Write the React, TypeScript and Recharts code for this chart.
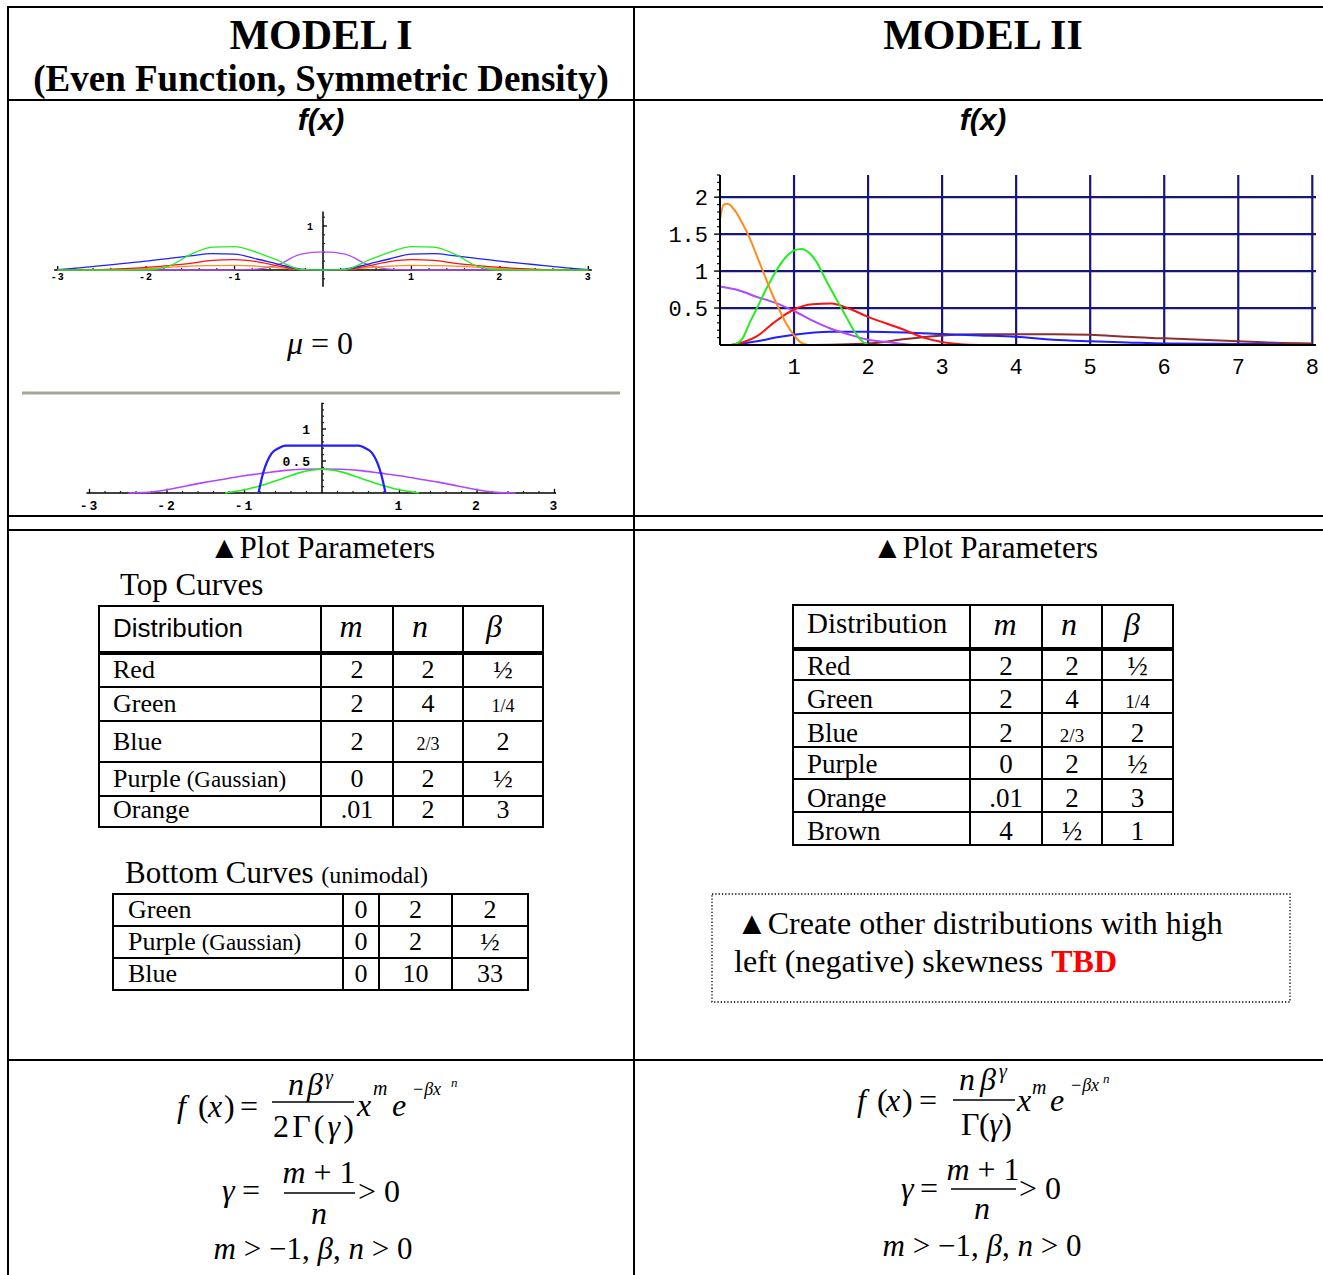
import React from 'react';
import { LineChart, Line, XAxis, YAxis, ReferenceLine, ReferenceDot } from 'recharts';

const SERIF = "'Liberation Serif', 'Times New Roman', serif";
const SANS = "'Liberation Sans', Arial, sans-serif";
const MONO = "'Liberation Mono', 'DejaVu Sans Mono', monospace";

const RED = '#ff1010';
const GREEN = '#22ee22';
const BLUE = '#1f1fff';
const ORANGE = '#ff8c1a';
const PURPLE = '#b048ff';
const BROWN = '#8b2f2f';
const NAVY = '#16167c';

// ---------- Model I, top curves ----------
const topX = [-3, -2.75, -2.5, -2.25, -2, -1.75, -1.5, -1.25, -1, -0.75, -0.5, -0.25, 0, 0.25, 0.5, 0.75, 1, 1.25, 1.5, 1.75, 2, 2.25, 2.5, 2.75, 3];
const topBlue = [0.01, 0.05, 0.1, 0.15, 0.2, 0.26, 0.32, 0.37, 0.36, 0.25, 0.13, 0.02, 0, 0.02, 0.13, 0.25, 0.36, 0.37, 0.32, 0.26, 0.2, 0.15, 0.1, 0.05, 0.01];
const topGreen = [0, 0, 0, 0, 0, 0.08, 0.35, 0.52, 0.53, 0.4, 0.21, 0.01, 0, 0.01, 0.21, 0.4, 0.53, 0.52, 0.35, 0.08, 0, 0, 0, 0, 0];
const topRed = [0, 0, 0.01, 0.03, 0.06, 0.1, 0.15, 0.22, 0.235, 0.19, 0.09, 0.01, 0, 0.01, 0.09, 0.19, 0.235, 0.22, 0.15, 0.1, 0.06, 0.03, 0.01, 0, 0];
const topOrange = [0, 0, 0, 0.01, 0.03, 0.06, 0.09, 0.1, 0.105, 0.09, 0.05, 0.01, 0, 0.01, 0.05, 0.09, 0.105, 0.1, 0.09, 0.06, 0.03, 0.01, 0, 0, 0];
const topPurple = [0, 0, 0, 0, 0, 0, 0, 0, 0.005, 0.02, 0.13, 0.36, 0.41, 0.36, 0.13, 0.02, 0.005, 0, 0, 0, 0, 0, 0, 0, 0];
const topXTicks = [-3, -2, -1, 1, 2, 3];
const topXTickLabels = ['-3', '-2', '-1', '1', '2', '3'];
const topYTicks = [1];
const topYTickLabels = ['1'];

// ---------- Model I, bottom curves ----------
const botPurpleX = [-2.5, -2.25, -2, -1.75, -1.5, -1.25, -1, -0.75, -0.5, -0.25, 0, 0.25, 0.5, 0.75, 1, 1.25, 1.5, 1.75, 2, 2.25, 2.5];
const botPurple = [0, 0.01, 0.05, 0.11, 0.17, 0.22, 0.27, 0.31, 0.35, 0.37, 0.375, 0.37, 0.35, 0.31, 0.27, 0.22, 0.17, 0.11, 0.05, 0.01, 0];
const botGreenX = [-1.25, -1, -0.75, -0.5, -0.25, 0, 0.25, 0.5, 0.75, 1, 1.25];
const botGreen = [0, 0.05, 0.13, 0.23, 0.33, 0.37, 0.33, 0.23, 0.13, 0.05, 0];
const botBlueX = [-0.82, -0.76, -0.65, -0.56, -0.47, 0, 0.47, 0.56, 0.65, 0.76, 0.82];
const botBlue = [0, 0.31, 0.62, 0.7, 0.74, 0.74, 0.74, 0.7, 0.62, 0.31, 0];
const botXTicks = [-3, -2, -1, 1, 2, 3];
const botXTickLabels = ['-3', '-2', '-1', '1', '2', '3'];
const botYTicks = [0.5, 1];
const botYTickLabels = ['0.5', '1'];

// ---------- Model II curves ----------
const m2OrangeX = [0, 0.05, 0.1, 0.2, 0.3, 0.4, 0.5, 0.6, 0.7, 0.8, 0.9, 1.0, 1.1, 1.2];
const m2Orange = [1.7, 1.9, 1.91, 1.82, 1.65, 1.45, 1.2, 0.95, 0.7, 0.48, 0.28, 0.13, 0.03, 0];
const m2GreenX = [0.15, 0.2, 0.3, 0.4, 0.5, 0.6, 0.7, 0.8, 0.9, 1.0, 1.1, 1.2, 1.3, 1.4, 1.5, 1.6, 1.7, 1.8, 1.9, 2.0];
const m2Green = [0, 0.01, 0.08, 0.3, 0.5, 0.71, 0.9, 1.07, 1.2, 1.28, 1.3, 1.25, 1.13, 0.94, 0.75, 0.57, 0.39, 0.21, 0.07, 0];
const m2PurpleX = [0, 0.25, 0.5, 0.75, 1, 1.25, 1.5, 1.75, 2, 2.25, 2.5, 2.6];
const m2Purple = [0.79, 0.74, 0.65, 0.57, 0.46, 0.33, 0.22, 0.14, 0.07, 0.04, 0.01, 0];
const m2RedX = [0.15, 0.25, 0.5, 0.75, 1, 1.25, 1.5, 1.75, 2, 2.25, 2.5, 2.75, 3, 3.25, 3.5];
const m2Red = [0, 0.02, 0.12, 0.32, 0.48, 0.55, 0.56, 0.49, 0.38, 0.29, 0.2, 0.1, 0.04, 0.01, 0];
const m2BlueX = [0.15, 0.5, 0.75, 1, 1.5, 2, 2.5, 3, 3.5, 4, 4.5, 5, 5.5, 6, 7, 7.6];
const m2Blue = [0, 0.05, 0.1, 0.14, 0.18, 0.18, 0.17, 0.15, 0.13, 0.11, 0.07, 0.05, 0.035, 0.02, 0.014, 0.01];
const m2BrownX = [1.25, 1.5, 2, 2.5, 3, 3.5, 4, 4.5, 5, 5.5, 6, 6.5, 7, 7.5, 8];
const m2Brown = [0, 0.005, 0.02, 0.08, 0.13, 0.145, 0.145, 0.145, 0.14, 0.11, 0.09, 0.07, 0.05, 0.03, 0.02];
const m2XTicks = [1, 2, 3, 4, 5, 6, 7, 8];
const m2XTickLabels = ['1', '2', '3', '4', '5', '6', '7', '8'];
const m2YTicks = [0.5, 1, 1.5, 2];
const m2YTickLabels = ['0.5', '1', '1.5', '2'];

// ---------- parameter tables ----------
const topTableRows = ['Red', 'Green', 'Blue', 'Purple', 'Orange'];
const topTableM = ['2', '2', '2', '0', '.01'];
const topTableN = ['2', '4', '2/3', '2', '2'];
const topTableB = ['½', '1/4', '2', '½', '3'];
const botTableRows = ['Green', 'Purple', 'Blue'];
const botTableM = ['0', '0', '0'];
const botTableN = ['2', '2', '10'];
const botTableB = ['2', '½', '33'];
const m2TableRows = ['Red', 'Green', 'Blue', 'Purple', 'Orange', 'Brown'];
const m2TableM = ['2', '2', '2', '0', '.01', '4'];
const m2TableN = ['2', '4', '2/3', '2', '2', '½'];
const m2TableB = ['½', '1/4', '2', '½', '3', '1'];

const pts = (xs: number[], ys: number[]) => xs.map((x, i) => ({ x, y: ys[i] }));
const steps = (a: number, b: number, s: number) => {
  const out: number[] = [];
  for (let v = a; v <= b + 1e-9; v += s) out.push(Math.round(v * 100) / 100);
  return out;
};
const isWhole = (v: number, unit: number) => Math.abs(v / unit - Math.round(v / unit)) < 1e-6;

type AxisSpec = {
  id: string;
  xFrom: number; xTo: number; yFrom: number; yTo: number;
  xMajor: number[]; xLabels: string[]; xMinor: number[];
  yMajor: number[]; yLabels: string[]; yMinor: number[];
  xTickMaj: number; xTickMin: number; yTickMaj: number; yTickMin: number;
  fontSize: number; letterSpacing: number; xLabelOffset: number; yLabelOffset: number;
};

function mathAxes(s: AxisSpec) {
  const els: React.ReactNode[] = [];
  els.push(<ReferenceLine key={s.id + 'xa'} segment={[{ x: s.xFrom, y: 0 }, { x: s.xTo, y: 0 }]} stroke="#000" strokeWidth={1.5} ifOverflow="visible" />);
  els.push(<ReferenceLine key={s.id + 'ya'} segment={[{ x: 0, y: s.yFrom }, { x: 0, y: s.yTo }]} stroke="#000" strokeWidth={1.5} ifOverflow="visible" />);
  s.xMinor.forEach((v) => {
    els.push(<ReferenceLine key={s.id + 'xm' + v} segment={[{ x: v, y: 0 }, { x: v, y: s.xTickMin }]} stroke="#222" strokeWidth={1.2} ifOverflow="visible" />);
  });
  s.yMinor.forEach((v) => {
    els.push(<ReferenceLine key={s.id + 'ym' + v} segment={[{ x: 0, y: v }, { x: s.yTickMin, y: v }]} stroke="#222" strokeWidth={1.2} ifOverflow="visible" />);
  });
  s.xMajor.forEach((v, i) => {
    els.push(<ReferenceLine key={s.id + 'xM' + v} segment={[{ x: v, y: 0 }, { x: v, y: s.xTickMaj }]} stroke="#000" strokeWidth={1.3} ifOverflow="visible" />);
    els.push(
      <ReferenceDot key={s.id + 'xl' + v} x={v} y={0} r={0} fill="none" stroke="none" ifOverflow="visible"
        label={{ value: s.xLabels[i], position: 'bottom', offset: s.xLabelOffset, fontSize: s.fontSize, fontFamily: MONO, fontWeight: 'bold', fill: '#000', letterSpacing: s.letterSpacing }} />
    );
  });
  s.yMajor.forEach((v, i) => {
    els.push(<ReferenceLine key={s.id + 'yM' + v} segment={[{ x: 0, y: v }, { x: s.yTickMaj, y: v }]} stroke="#000" strokeWidth={1.3} ifOverflow="visible" />);
    els.push(
      <ReferenceDot key={s.id + 'yl' + v} x={0} y={v} r={0} fill="none" stroke="none" ifOverflow="visible"
        label={{ value: s.yLabels[i], position: 'left', offset: s.yLabelOffset, fontSize: s.fontSize, fontFamily: MONO, fontWeight: 'bold', fill: '#000', letterSpacing: s.letterSpacing }} />
    );
  });
  return els;
}

function TopChart() {
  return (
    <LineChart width={566} height={99} margin={{ top: 0, right: 0, bottom: 0, left: 0 }}>
      <XAxis type="number" dataKey="x" domain={[-3.2, 3.2]} hide allowDataOverflow />
      <YAxis type="number" domain={[-0.75, 1.5]} hide allowDataOverflow />
      {mathAxes({
        id: 't', xFrom: -3.04, xTo: 3.04, yFrom: -0.38, yTo: 1.33,
        xMajor: topXTicks, xLabels: topXTickLabels,
        xMinor: steps(-2.8, 2.8, 0.2).filter((v) => !isWhole(v, 1)),
        yMajor: topYTicks, yLabels: topYTickLabels,
        yMinor: steps(-0.2, 1.2, 0.2).filter((v) => !isWhole(v, 1)),
        xTickMaj: 0.09, xTickMin: 0.045, yTickMaj: 0.045, yTickMin: 0.023,
        fontSize: 10, letterSpacing: 1, xLabelOffset: 3, yLabelOffset: 9,
      })}
      <Line data={pts(topX, topPurple)} dataKey="y" type="monotone" stroke={PURPLE} strokeWidth={1.3} dot={false} isAnimationActive={false} />
      <Line data={pts(topX, topOrange)} dataKey="y" type="monotone" stroke={ORANGE} strokeWidth={1.3} dot={false} isAnimationActive={false} />
      <Line data={pts(topX, topRed)} dataKey="y" type="monotone" stroke={RED} strokeWidth={1.3} dot={false} isAnimationActive={false} />
      <Line data={pts(topX, topBlue)} dataKey="y" type="monotone" stroke={BLUE} strokeWidth={1.3} dot={false} isAnimationActive={false} />
      <Line data={pts(topX, topGreen)} dataKey="y" type="monotone" stroke={GREEN} strokeWidth={1.3} dot={false} isAnimationActive={false} />
    </LineChart>
  );
}

function BottomChart() {
  return (
    <LineChart width={496} height={128} margin={{ top: 0, right: 0, bottom: 0, left: 0 }}>
      <XAxis type="number" dataKey="x" domain={[-3.2, 3.2]} hide allowDataOverflow />
      <YAxis type="number" domain={[-0.5, 1.5]} hide allowDataOverflow />
      {mathAxes({
        id: 'b', xFrom: -3.04, xTo: 3.02, yFrom: 0, yTo: 1.41,
        xMajor: botXTicks, xLabels: botXTickLabels,
        xMinor: steps(-2.8, 2.8, 0.2).filter((v) => !isWhole(v, 1)),
        yMajor: botYTicks, yLabels: botYTickLabels,
        yMinor: steps(0.1, 1.4, 0.1).filter((v) => !isWhole(v, 0.5)),
        xTickMaj: 0.065, xTickMin: 0.032, yTickMaj: 0.052, yTickMin: 0.026,
        fontSize: 13, letterSpacing: 2, xLabelOffset: 8, yLabelOffset: 10,
      })}
      <Line data={pts(botPurpleX, botPurple)} dataKey="y" type="monotone" stroke={PURPLE} strokeWidth={1.6} dot={false} isAnimationActive={false} />
      <Line data={pts(botGreenX, botGreen)} dataKey="y" type="monotone" stroke={GREEN} strokeWidth={1.6} dot={false} isAnimationActive={false} />
      <Line data={pts(botBlueX, botBlue)} dataKey="y" type="monotone" stroke={BLUE} strokeWidth={2.2} dot={false} isAnimationActive={false} />
    </LineChart>
  );
}

function ModelIIChart() {
  const minorY = steps(0.1, 2.3, 0.1).filter((v) => !isWhole(v, 0.5));
  return (
    <LineChart width={662} height={215} margin={{ top: 5, right: 6, bottom: 0, left: 0 }}>
      <XAxis type="number" dataKey="x" domain={[0, 8.05]} ticks={m2XTicks} allowDataOverflow
        tickFormatter={(v: number, i: number) => m2XTickLabels[i]}
        height={40} tickLine={false} tickMargin={7} axisLine={{ stroke: '#000', strokeWidth: 2 }}
        tick={{ fontSize: 22, fontFamily: MONO, fill: '#000' }} />
      <YAxis type="number" domain={[0, 2.3]} ticks={m2YTicks} allowDataOverflow
        tickFormatter={(v: number, i: number) => m2YTickLabels[i]}
        width={60} tickLine={false} tickMargin={6} axisLine={{ stroke: '#000', strokeWidth: 2 }}
        tick={{ fontSize: 22, fontFamily: MONO, fill: '#000' }} />
      {m2XTicks.map((v) => (
        <ReferenceLine key={'gx' + v} x={v} stroke={NAVY} strokeWidth={2.2} />
      ))}
      {m2YTicks.map((v) => (
        <ReferenceLine key={'gy' + v} y={v} stroke={NAVY} strokeWidth={2.2} />
      ))}
      {minorY.map((v) => (
        <ReferenceLine key={'my' + v} segment={[{ x: 0, y: v }, { x: -0.04, y: v }]} stroke="#000" strokeWidth={1.2} ifOverflow="visible" />
      ))}
      {m2YTicks.map((v) => (
        <ReferenceLine key={'My' + v} segment={[{ x: 0, y: v }, { x: -0.08, y: v }]} stroke="#000" strokeWidth={1.4} ifOverflow="visible" />
      ))}
      <Line data={pts(m2BrownX, m2Brown)} dataKey="y" type="monotone" stroke={BROWN} strokeWidth={2} dot={false} isAnimationActive={false} />
      <Line data={pts(m2BlueX, m2Blue)} dataKey="y" type="monotone" stroke={BLUE} strokeWidth={2} dot={false} isAnimationActive={false} />
      <Line data={pts(m2PurpleX, m2Purple)} dataKey="y" type="monotone" stroke={PURPLE} strokeWidth={2} dot={false} isAnimationActive={false} />
      <Line data={pts(m2RedX, m2Red)} dataKey="y" type="monotone" stroke={RED} strokeWidth={2} dot={false} isAnimationActive={false} />
      <Line data={pts(m2GreenX, m2Green)} dataKey="y" type="monotone" stroke={GREEN} strokeWidth={2} dot={false} isAnimationActive={false} />
      <Line data={pts(m2OrangeX, m2Orange)} dataKey="y" type="monotone" stroke={ORANGE} strokeWidth={2} dot={false} isAnimationActive={false} />
    </LineChart>
  );
}

const HL = (x1: number, x2: number, y: number, w = 2, key?: string) => (
  <line key={key} x1={x1} x2={x2} y1={y} y2={y} stroke="#000" strokeWidth={w} />
);
const VL = (x: number, y1: number, y2: number, w = 2, key?: string) => (
  <line key={key} x1={x} x2={x} y1={y1} y2={y2} stroke="#000" strokeWidth={w} />
);

function Frac({ v, x, y, size }: { v: string; x: number; y: number; size: number }) {
  const small = v === '1/4' || v === '2/3';
  return (
    <text x={x} y={y} textAnchor="middle" fontFamily={SERIF} fontSize={small ? Math.round(size * 0.7) : size}>{v}</text>
  );
}

export default function App() {
  const t1Cols = [99, 321, 393, 463, 543];
  const t1Rows = [606, 653, 687, 721, 762, 796, 827];
  const t1Base = [678, 712, 750, 787, 818];
  const t2Cols = [113, 343, 379, 452, 528];
  const t2Rows = [894, 926, 958, 990];
  const t2Base = [918, 950, 982];
  const t3Cols = [793, 970, 1042, 1102, 1173];
  const t3Rows = [605, 649, 680, 713, 747, 779, 812, 845];
  const t3Base = [675, 708, 742, 773, 807, 840];

  const mid = (a: number[], i: number) => (a[i] + a[i + 1]) / 2;

  return (
    <div style={{ position: 'absolute', left: 0, top: 0, width: 1323, height: 1275, background: '#fff', overflow: 'hidden' }}>
      <svg width={1323} height={1275} style={{ position: 'absolute', left: 0, top: 0 }}>
        {HL(7, 1323, 7)}
        {HL(7, 1323, 100)}
        {HL(7, 1323, 516)}
        {HL(7, 1323, 530)}
        {HL(7, 1323, 1060)}
        {VL(8, 6, 1275)}
        {VL(634, 6, 1275)}

        <text x={321} y={49} textAnchor="middle" fontFamily={SERIF} fontWeight="bold" fontSize={42}>MODEL I</text>
        <text x={321} y={91} textAnchor="middle" fontFamily={SERIF} fontWeight="bold" fontSize={37}>(Even Function, Symmetric Density)</text>
        <text x={983} y={49} textAnchor="middle" fontFamily={SERIF} fontWeight="bold" fontSize={42}>MODEL II</text>
        <text x={321} y={130} textAnchor="middle" fontFamily={SANS} fontWeight="bold" fontStyle="italic" fontSize={30}>f(x)</text>
        <text x={983} y={130} textAnchor="middle" fontFamily={SANS} fontWeight="bold" fontStyle="italic" fontSize={30}>f(x)</text>

        <text x={320} y={354} textAnchor="middle" fontFamily={SERIF} fontSize={32}>
          <tspan fontStyle="italic">μ</tspan> = 0
        </text>
        <line x1={22} x2={620} y1={393} y2={393} stroke="#a8a596" strokeWidth={3} />

        <text x={322} y={558} textAnchor="middle" fontFamily={SERIF} fontSize={31}>▲Plot Parameters</text>
        <text x={985} y={558} textAnchor="middle" fontFamily={SERIF} fontSize={31}>▲Plot Parameters</text>
        <text x={120} y={595} fontFamily={SERIF} fontSize={31}>Top Curves</text>
        <text x={125} y={883} fontFamily={SERIF} fontSize={31}>Bottom Curves <tspan fontSize={24}>(unimodal)</tspan></text>

        {t1Rows.map((y, i) => HL(t1Cols[0] - 1, t1Cols[4] + 1, y, i === 1 ? 4 : 2, 't1h' + i))}
        {t1Cols.map((x, i) => VL(x, t1Rows[0], t1Rows[6], 2, 't1v' + i))}
        <text x={113} y={637} fontFamily={SANS} fontSize={26}>Distribution</text>
        <text x={351} y={637} textAnchor="middle" fontFamily={SERIF} fontStyle="italic" fontSize={32}>m</text>
        <text x={420} y={637} textAnchor="middle" fontFamily={SERIF} fontStyle="italic" fontSize={32}>n</text>
        <text x={494} y={637} textAnchor="middle" fontFamily={SERIF} fontStyle="italic" fontSize={32}>β</text>
        {topTableRows.map((r, i) => (
          <g key={'t1r' + i}>
            <text x={113} y={t1Base[i]} fontFamily={SERIF} fontSize={26}>
              {r}{r === 'Purple' ? <tspan fontSize={23}> (Gaussian)</tspan> : null}
            </text>
            <Frac v={topTableM[i]} x={mid(t1Cols, 1)} y={t1Base[i]} size={26} />
            <Frac v={topTableN[i]} x={mid(t1Cols, 2)} y={t1Base[i]} size={26} />
            <Frac v={topTableB[i]} x={mid(t1Cols, 3)} y={t1Base[i]} size={26} />
          </g>
        ))}

        {t2Rows.map((y, i) => HL(t2Cols[0] - 1, t2Cols[4] + 1, y, 2, 't2h' + i))}
        {t2Cols.map((x, i) => VL(x, t2Rows[0], t2Rows[3], 2, 't2v' + i))}
        {botTableRows.map((r, i) => (
          <g key={'t2r' + i}>
            <text x={128} y={t2Base[i]} fontFamily={SERIF} fontSize={26}>
              {r}{r === 'Purple' ? <tspan fontSize={23}> (Gaussian)</tspan> : null}
            </text>
            <Frac v={botTableM[i]} x={mid(t2Cols, 1)} y={t2Base[i]} size={26} />
            <Frac v={botTableN[i]} x={mid(t2Cols, 2)} y={t2Base[i]} size={26} />
            <Frac v={botTableB[i]} x={mid(t2Cols, 3)} y={t2Base[i]} size={26} />
          </g>
        ))}

        {t3Rows.map((y, i) => HL(t3Cols[0] - 1, t3Cols[4] + 1, y, i === 1 ? 4 : 2, 't3h' + i))}
        {t3Cols.map((x, i) => VL(x, t3Rows[0], t3Rows[7], 2, 't3v' + i))}
        <text x={807} y={633} fontFamily={SERIF} fontSize={29}>Distribution</text>
        <text x={1005} y={635} textAnchor="middle" fontFamily={SERIF} fontStyle="italic" fontSize={32}>m</text>
        <text x={1069} y={635} textAnchor="middle" fontFamily={SERIF} fontStyle="italic" fontSize={32}>n</text>
        <text x={1132} y={635} textAnchor="middle" fontFamily={SERIF} fontStyle="italic" fontSize={32}>β</text>
        {m2TableRows.map((r, i) => (
          <g key={'t3r' + i}>
            <text x={807} y={t3Base[i]} fontFamily={SERIF} fontSize={27}>{r}</text>
            <Frac v={m2TableM[i]} x={mid(t3Cols, 1)} y={t3Base[i]} size={27} />
            <Frac v={m2TableN[i]} x={mid(t3Cols, 2)} y={t3Base[i]} size={27} />
            <Frac v={m2TableB[i]} x={mid(t3Cols, 3)} y={t3Base[i]} size={27} />
          </g>
        ))}

        <rect x={712} y={894} width={578} height={108} fill="none" stroke="#000" strokeWidth={1.3} strokeDasharray="1.3 2" />
        <text x={736} y={934} fontFamily={SERIF} fontSize={32}>▲Create other distributions with high</text>
        <text x={734} y={972} fontFamily={SERIF} fontSize={32}>
          left (negative) skewness <tspan fontWeight="bold" fill="#ff0000">TBD</tspan>
        </text>

        <g fontFamily={SERIF} fontSize={32}>
          <text x={177} y={1117} fontStyle="italic">f</text>
          <text x={198} y={1117}>(</text>
          <text x={208} y={1117} fontStyle="italic">x</text>
          <text x={224} y={1117}>)</text>
          <text x={240} y={1117}>=</text>
          <text x={288} y={1095} fontStyle="italic" textLength={35} lengthAdjust="spacing">nβ</text>
          <text x={325} y={1084} fontStyle="italic" fontSize={20}>γ</text>
          <line x1={272} x2={354} y1={1102} y2={1102} stroke="#000" strokeWidth={1.6} />
          <text x={273} y={1137} textLength={81} lengthAdjust="spacing">2Γ(<tspan fontStyle="italic">γ</tspan>)</text>
          <text x={357} y={1116} fontStyle="italic">x</text>
          <text x={373} y={1095} fontStyle="italic" fontSize={20}>m</text>
          <text x={392} y={1116} fontStyle="italic">e</text>
          <text x={412} y={1095} fontStyle="italic" fontSize={18}>−βx</text>
          <text x={451} y={1087} fontStyle="italic" fontSize={13}>n</text>
          <text x={222} y={1201} fontStyle="italic">γ</text>
          <text x={242} y={1201}>=</text>
          <text x={319} y={1183} textAnchor="middle"><tspan fontStyle="italic">m</tspan> + 1</text>
          <line x1={284} x2={355} y1={1193} y2={1193} stroke="#000" strokeWidth={1.6} />
          <text x={319} y={1224} textAnchor="middle" fontStyle="italic">n</text>
          <text x={358} y={1202}>&gt; 0</text>
          <text x={313} y={1259} textAnchor="middle" fontSize={31}>
            <tspan fontStyle="italic">m</tspan> &gt; −1, <tspan fontStyle="italic">β</tspan>, <tspan fontStyle="italic">n</tspan> &gt; 0
          </text>
        </g>

        <g fontFamily={SERIF} fontSize={32}>
          <text x={857} y={1111} fontStyle="italic">f</text>
          <text x={877} y={1111}>(</text>
          <text x={886} y={1111} fontStyle="italic">x</text>
          <text x={902} y={1111}>)</text>
          <text x={919} y={1111}>=</text>
          <text x={959} y={1090} fontStyle="italic" textLength={37} lengthAdjust="spacing">nβ</text>
          <text x={999} y={1078} fontStyle="italic" fontSize={20}>γ</text>
          <line x1={953} x2={1015} y1={1100} y2={1100} stroke="#000" strokeWidth={1.6} />
          <text x={961} y={1135} textLength={51} lengthAdjust="spacing">Γ(<tspan fontStyle="italic">γ</tspan>)</text>
          <text x={1017} y={1111} fontStyle="italic">x</text>
          <text x={1032} y={1094} fontStyle="italic" fontSize={20}>m</text>
          <text x={1050} y={1111} fontStyle="italic">e</text>
          <text x={1070} y={1091} fontStyle="italic" fontSize={18}>−βx</text>
          <text x={1103} y={1083} fontStyle="italic" fontSize={13}>n</text>
          <text x={901} y={1199} fontStyle="italic">γ</text>
          <text x={920} y={1199}>=</text>
          <text x={983} y={1180} textAnchor="middle"><tspan fontStyle="italic">m</tspan> + 1</text>
          <line x1={951} x2={1016} y1={1189} y2={1189} stroke="#000" strokeWidth={1.6} />
          <text x={982} y={1219} textAnchor="middle" fontStyle="italic">n</text>
          <text x={1019} y={1199}>&gt; 0</text>
          <text x={982} y={1256} textAnchor="middle" fontSize={31}>
            <tspan fontStyle="italic">m</tspan> &gt; −1, <tspan fontStyle="italic">β</tspan>, <tspan fontStyle="italic">n</tspan> &gt; 0
          </text>
        </g>
      </svg>

      <div style={{ position: 'absolute', left: 40, top: 204 }}><TopChart /></div>
      <div style={{ position: 'absolute', left: 74, top: 397 }}><BottomChart /></div>
      <div style={{ position: 'absolute', left: 660, top: 170 }}><ModelIIChart /></div>
    </div>
  );
}
